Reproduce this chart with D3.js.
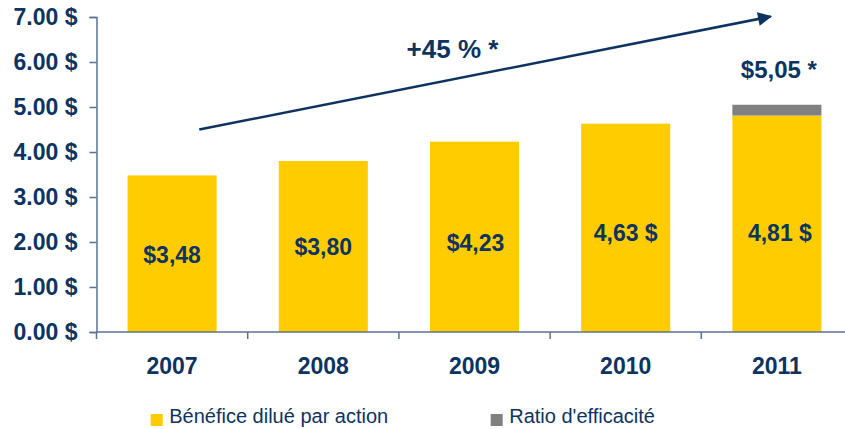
<!DOCTYPE html>
<html>
<head>
<meta charset="utf-8">
<script src="https://cdn.jsdelivr.net/npm/d3@7"></script>
<style>
  body { margin: 0; background: #fff; }
  svg { font-family: Arial, "Liberation Sans", sans-serif; display: block; }
</style>
</head>
<body>
<div id="chart"></div>
<script>
// Données
const years = ['2007', '2008', '2009', '2010', '2011'];
const benefice = [3.48, 3.80, 4.23, 4.63, 4.81];
const efficacite = [0, 0, 0, 0, 0.24];
const barLabels = ['$3,48', '$3,80', '$4,23', '4,63 $', '4,81 $'];
const yTicks = [0, 1, 2, 3, 4, 5, 6, 7];
const totalLabel = '$5,05 *';
const growthLabel = '+45 % *';
const legendItems = ['Bénéfice dilué par action', "Ratio d'efficacité"];

const navy = '#0d3361';
const yellow = '#ffcc00';
const grey = '#808080';
const axisColor = '#5b7290';

const W = 845, H = 429;
const margin = {top: 17, right: -7.5, bottom: 97, left: 96.5};
const width = W - margin.left - margin.right;
const height = H - margin.top - margin.bottom;

const svg = d3.select('#chart').append('svg')
    .attr('width', W)
    .attr('height', H);

const g = svg.append('g')
    .attr('transform', `translate(${margin.left},${margin.top})`);

// Echelles
const x = d3.scaleBand()
    .domain(years)
    .range([0, width])
    .paddingInner(0.411)
    .paddingOuter(0.2055);

const y = d3.scaleLinear()
    .domain([0, 7])
    .range([height, 0]);

// Axe Y
const yAxis = g.append('g')
    .call(d3.axisLeft(y)
        .tickValues(yTicks)
        .tickSize(7)
        .tickPadding(12)
        .tickFormat(d => d3.format('.2f')(d) + ' $'));
yAxis.select('.domain').attr('stroke', axisColor).attr('stroke-width', 1.5);
yAxis.selectAll('.tick line').attr('stroke', axisColor).attr('stroke-width', 1.5);
yAxis.selectAll('.tick text')
    .attr('fill', navy)
    .style('font-size', '23px')
    .style('font-weight', 'bold');

// Barres empilées
const stacked = years.map((yr, i) => ({year: yr, b: benefice[i], e: efficacite[i], label: barLabels[i], i}));

g.selectAll('.bar-b')
    .data(stacked)
    .enter()
    .append('rect')
    .attr('class', 'bar-b')
    .attr('x', d => x(d.year))
    .attr('y', d => y(d.b))
    .attr('width', x.bandwidth())
    .attr('height', d => y(0) - y(d.b))
    .attr('fill', yellow);

g.selectAll('.bar-e')
    .data(stacked.filter(d => d.e > 0))
    .enter()
    .append('rect')
    .attr('class', 'bar-e')
    .attr('x', d => x(d.year))
    .attr('y', d => y(d.b + d.e))
    .attr('width', x.bandwidth())
    .attr('height', d => y(d.b) - y(d.b + d.e))
    .attr('fill', grey);

// Libellés dans les barres (légèrement décalés comme dans l'original)
const labelShift = [1, 0, 6, 5, 9];
const labelShiftX = [0, 0, 1, 0, 3];
g.selectAll('.bar-label')
    .data(stacked)
    .enter()
    .append('text')
    .attr('class', 'bar-label')
    .attr('x', d => x(d.year) + x.bandwidth() / 2 + labelShiftX[d.i])
    .attr('y', d => (y(d.b) + y(0)) / 2 + labelShift[d.i])
    .attr('dy', '.36em')
    .attr('text-anchor', 'middle')
    .attr('fill', navy)
    .style('font-size', '23px')
    .style('font-weight', 'bold')
    .text(d => d.label);

// Axe X (graduations entre les catégories)
const xAxis = g.append('g')
    .attr('transform', `translate(0,${height})`);
xAxis.append('line')
    .attr('x1', 0).attr('x2', width)
    .attr('stroke', axisColor).attr('stroke-width', 1.5);
const bounds = years.map((d, i) => i * x.step());
xAxis.selectAll('.xtick')
    .data(bounds)
    .enter()
    .append('line')
    .attr('x1', d => d).attr('x2', d => d)
    .attr('y1', 0).attr('y2', 7)
    .attr('stroke', axisColor).attr('stroke-width', 1.5);
xAxis.selectAll('.xlabel')
    .data(years)
    .enter()
    .append('text')
    .attr('x', d => x(d) + x.bandwidth() / 2)
    .attr('y', 42)
    .attr('text-anchor', 'middle')
    .attr('fill', navy)
    .style('font-size', '23px')
    .style('font-weight', 'bold')
    .text(d => d);

// Total 2011
const last = stacked[stacked.length - 1];
g.append('text')
    .attr('x', x(last.year) + x.bandwidth() / 2 + 2)
    .attr('y', y(last.b + last.e) - 27)
    .attr('text-anchor', 'middle')
    .attr('fill', navy)
    .style('font-size', '24px')
    .style('font-weight', 'bold')
    .text(totalLabel);

// Flèche de croissance
svg.append('defs').append('marker')
    .attr('id', 'arrow')
    .attr('viewBox', '0 0 10 10')
    .attr('refX', 9).attr('refY', 5)
    .attr('markerWidth', 17).attr('markerHeight', 14)
    .attr('markerUnits', 'userSpaceOnUse')
    .attr('orient', 'auto')
    .append('path')
    .attr('d', 'M0,0 L10,5 L0,10 Z')
    .attr('fill', navy);

g.append('line')
    .attr('x1', x('2007') + x.bandwidth() * 0.805)
    .attr('y1', y(4.50))
    .attr('x2', x('2011') + x.bandwidth() * 0.43)
    .attr('y2', y(7.01))
    .attr('stroke', navy)
    .attr('stroke-width', 2.5)
    .attr('marker-end', 'url(#arrow)');

g.append('text')
    .attr('x', (x('2009') + x.bandwidth() / 2) - 22)
    .attr('y', y(6.08))
    .attr('text-anchor', 'middle')
    .attr('fill', navy)
    .style('font-size', '26px')
    .style('font-weight', 'bold')
    .text(growthLabel);

// Légende
const legend = svg.append('g')
    .attr('transform', `translate(150.7, 0)`);
const legendColors = [yellow, grey];
const legendX = [0, 340];
legendItems.forEach((txt, i) => {
    legend.append('rect')
        .attr('x', legendX[i])
        .attr('y', 414)
        .attr('width', 12)
        .attr('height', 12)
        .attr('fill', legendColors[i]);
    legend.append('text')
        .attr('x', legendX[i] + 18.5)
        .attr('y', 423)
        .attr('fill', navy)
        .style('font-size', '20px')
        .text(txt);
});
</script>
</body>
</html>
